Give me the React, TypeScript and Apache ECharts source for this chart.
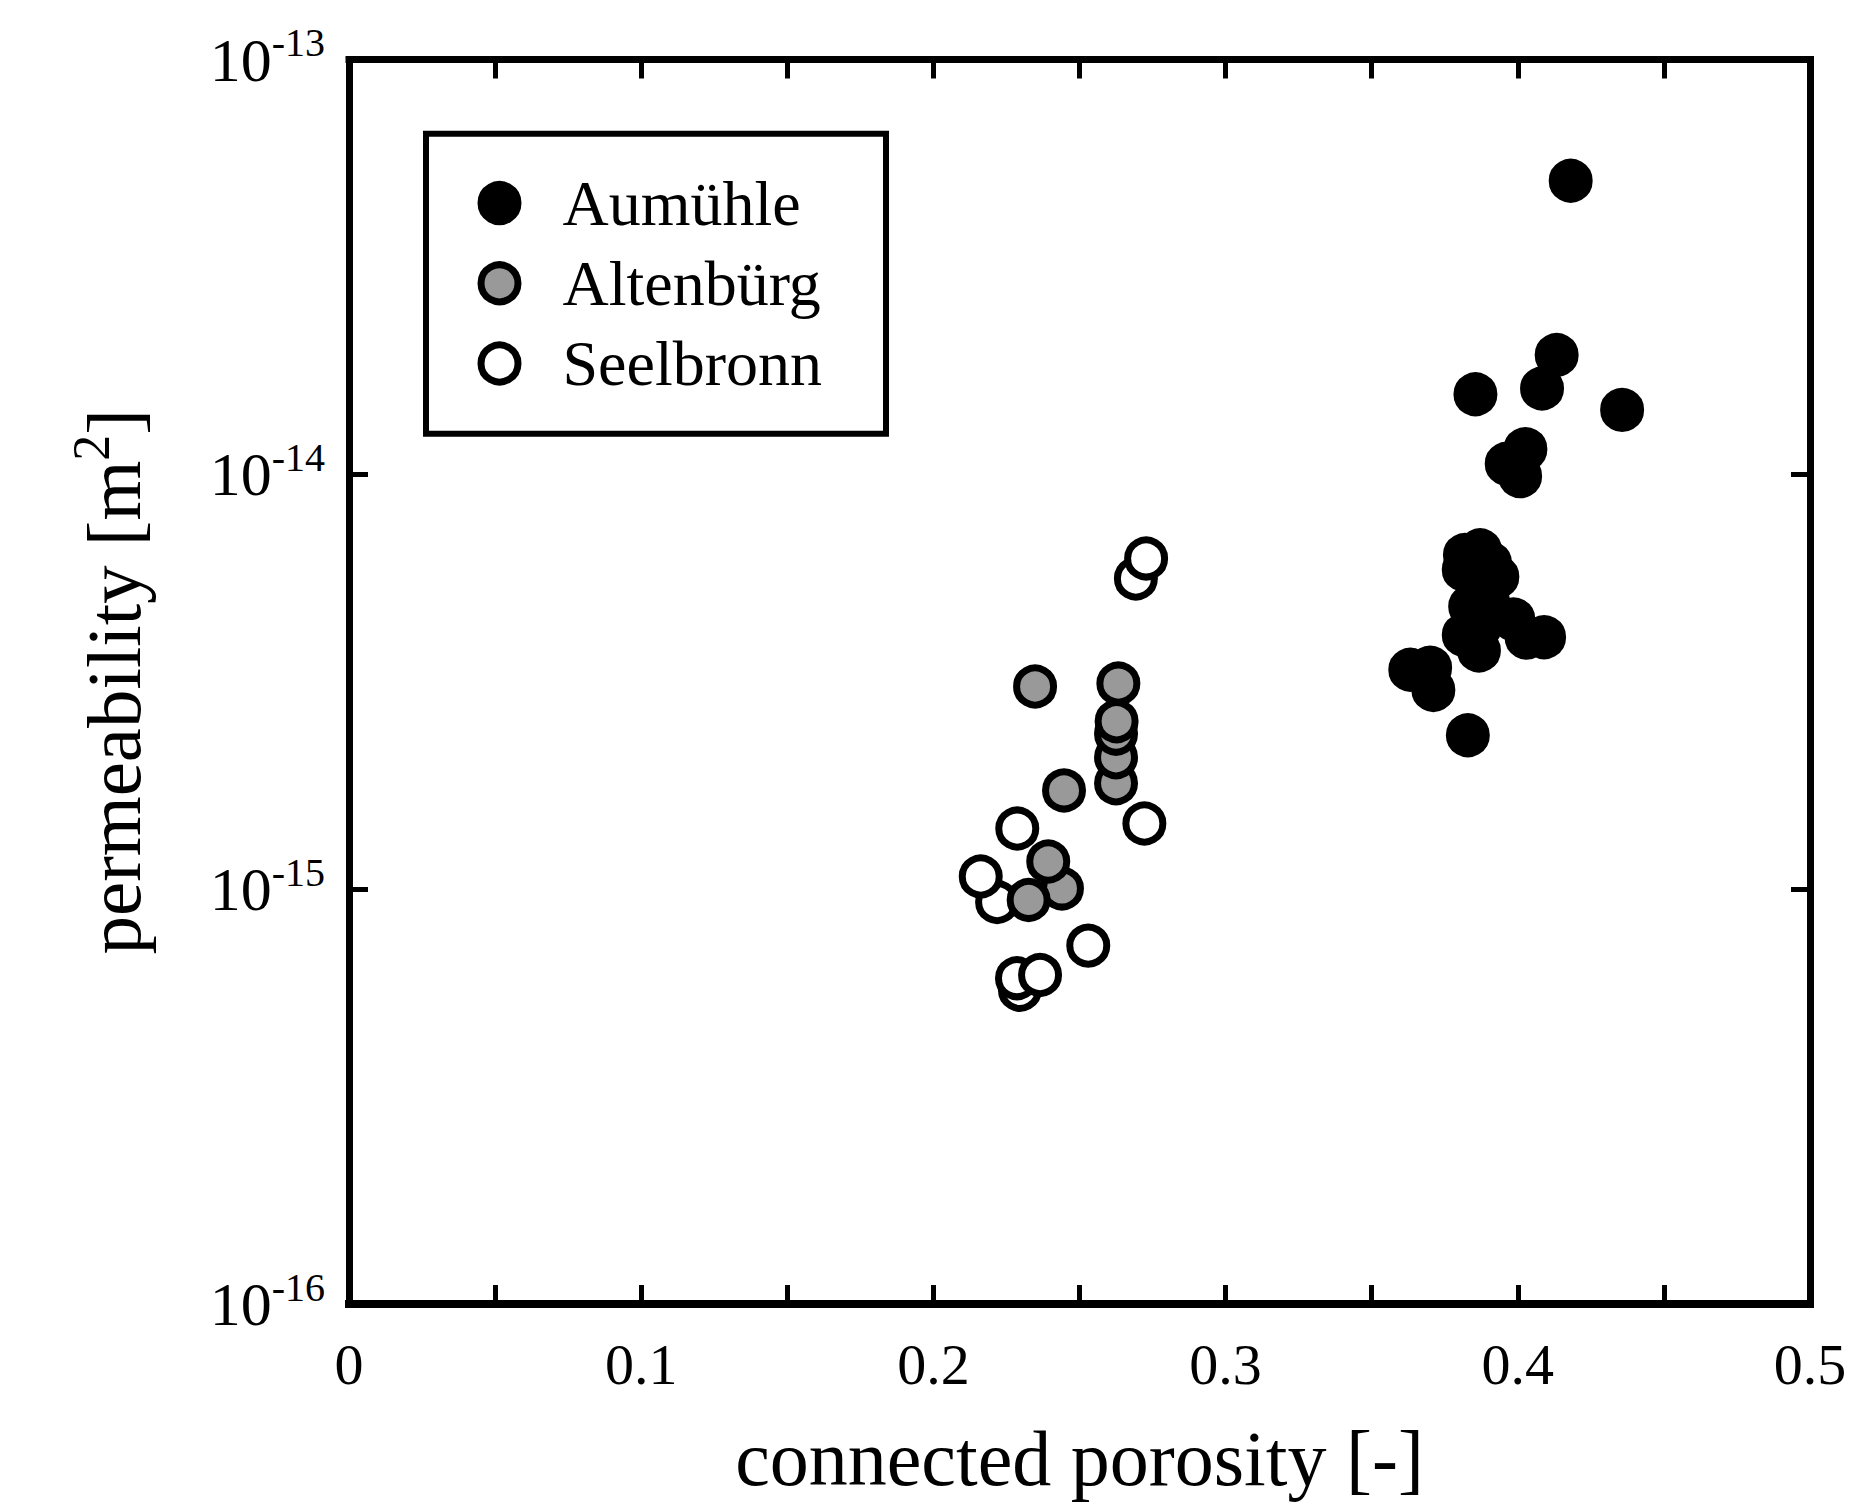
import React, { useEffect, useRef } from "react";
import * as echarts from "echarts";

const FONT = "'Liberation Serif', 'DejaVu Serif', serif";

const seriesNames = ["Aumühle", "Altenbürg", "Seelbronn"];
const xTitle = "connected porosity [-]";
const yTitleMain = "permeability [m";
const yTitleSup = "2";

// [connected porosity, permeability m^2]
const aumuehle: [number, number][] = [
  [0.4181, 5.1e-14],
  [0.4133, 1.94e-14],
  [0.4083, 1.61e-14],
  [0.3855, 1.56e-14],
  [0.4357, 1.43e-14],
  [0.4026, 1.15e-14],
  [0.3962, 1.06e-14],
  [0.4008, 9.9e-15],
  [0.3871, 6.56e-15],
  [0.3819, 6.39e-15],
  [0.3815, 5.89e-15],
  [0.393, 5.66e-15],
  [0.3905, 6.11e-15],
  [0.3867, 5.3e-15],
  [0.3837, 4.8e-15],
  [0.3898, 4.93e-15],
  [0.3871, 4.3e-15],
  [0.3815, 4.1e-15],
  [0.3867, 3.76e-15],
  [0.3985, 4.47e-15],
  [0.403, 4.04e-15],
  [0.409, 4.05e-15],
  [0.3632, 3.38e-15],
  [0.37, 3.42e-15],
  [0.3711, 3.02e-15],
  [0.3829, 2.35e-15],
];

const altenbuerg: [number, number][] = [
  [0.2348, 3.08e-15],
  [0.2625, 1.8e-15],
  [0.2625, 2.08e-15],
  [0.2625, 2.37e-15],
  [0.2633, 3.13e-15],
  [0.2627, 2.54e-15],
  [0.2447, 1.73e-15],
  [0.244, 1.004e-15],
  [0.2393, 1.166e-15],
  [0.2326, 9.42e-16],
];

const seelbronn: [number, number][] = [
  [0.2693, 5.61e-15],
  [0.2728, 6.27e-15],
  [0.2722, 1.44e-15],
  [0.2287, 1.4e-15],
  [0.2218, 9.31e-16],
  [0.2162, 1.073e-15],
  [0.253, 7.31e-16],
  [0.2296, 5.72e-16],
  [0.2286, 6.1e-16],
  [0.2365, 6.21e-16],
];

const xMin = 0;
const xMax = 0.5;
const xTickStep = 0.05;
const yMin = 1e-16;
const yMax = 1e-13;

const frame = "#000";
const gray = "#999999";

function buildOption() {
  const tick = { show: true, inside: true, length: 19, lineStyle: { color: frame, width: 5 } };
  const line = (w: number) => ({ show: true, onZero: false, lineStyle: { color: frame, width: w, cap: "square" } });
  const marker = { symbol: "circle", symbolSize: 37 };
  return {
    animation: false,
    backgroundColor: "#fff",
    grid: { left: 349, right: 45, top: 59.5, bottom: 190.5, containLabel: false },
    xAxis: [
      {
        type: "value",
        min: xMin,
        max: xMax,
        interval: xTickStep,
        position: "bottom",
        axisLine: line(8),
        axisTick: tick,
        splitLine: { show: false },
        axisLabel: {
          margin: 31,
          fontSize: 58,
          fontFamily: FONT,
          color: "#000",
          formatter: (v: number) => {
            const k = Math.round(v * 100);
            return k % 10 === 0 ? String(k / 100) : "";
          },
        },
        name: xTitle,
        nameLocation: "middle",
        nameGap: 115,
        nameTextStyle: { fontSize: 78, fontFamily: FONT, color: "#000" },
      },
      {
        type: "value",
        min: xMin,
        max: xMax,
        interval: xTickStep,
        position: "top",
        axisLine: line(7),
        axisTick: tick,
        splitLine: { show: false },
        axisLabel: { show: false },
      },
    ],
    yAxis: [
      {
        type: "log",
        logBase: 10,
        min: yMin,
        max: yMax,
        position: "left",
        axisLine: line(7),
        axisTick: tick,
        minorTick: { show: false },
        splitLine: { show: false },
        axisLabel: {
          margin: 24,
          color: "#000",
          formatter: (v: number) => `{b|10}{s|${Math.round(Math.log10(v))}}`,
          rich: {
            b: { fontSize: 62, fontFamily: FONT, color: "#000" },
            s: { fontSize: 40, fontFamily: FONT, color: "#000", padding: [0, 0, 34, 0] },
          },
        },
        name: `{a|${yTitleMain}}{s|${yTitleSup}}{a|]}`,
        nameLocation: "middle",
        nameGap: 186,
        nameTextStyle: {
          color: "#000",
          rich: {
            a: { fontSize: 77, fontFamily: FONT, color: "#000" },
            s: { fontSize: 52, fontFamily: FONT, color: "#000", padding: [0, 0, 46, 0] },
          },
        },
      },
      {
        type: "log",
        logBase: 10,
        min: yMin,
        max: yMax,
        position: "right",
        axisLine: line(7),
        axisTick: tick,
        splitLine: { show: false },
        axisLabel: { show: false },
      },
    ],
    legend: {
      orient: "vertical",
      left: 426,
      top: 133.7,
      data: seriesNames,
      icon: "circle",
      itemWidth: 37,
      itemHeight: 37,
      itemGap: 16.2,
      padding: [37.4, 64, 38.3, 51.5],
      borderColor: "#000",
      borderWidth: 6,
      backgroundColor: "#fff",
      selectedMode: false,
      itemStyle: { borderWidth: 7, borderColor: "#000" },
      textStyle: {
        fontSize: 64,
        fontFamily: FONT,
        color: "#000",
        lineHeight: 25,
        padding: [0, 0, 12, 39.5],
      },
    },
    series: [
      {
        type: "scatter",
        name: seriesNames[2],
        data: seelbronn,
        ...marker,
        itemStyle: { color: "#fff", borderColor: "#000", borderWidth: 7, opacity: 1 },
        emphasis: { disabled: true },
        z: 2,
      },
      {
        type: "scatter",
        name: seriesNames[1],
        data: altenbuerg,
        ...marker,
        itemStyle: { color: gray, borderColor: "#000", borderWidth: 7, opacity: 1 },
        emphasis: { disabled: true },
        z: 3,
      },
      {
        type: "scatter",
        name: seriesNames[0],
        data: aumuehle,
        ...marker,
        itemStyle: { color: "#000", borderColor: "#000", borderWidth: 7, opacity: 1 },
        emphasis: { disabled: true },
        z: 4,
      },
    ],
  };
}

export default function App() {
  const ref = useRef<HTMLDivElement>(null);
  useEffect(() => {
    document.body.style.margin = "0";
    const chart = echarts.init(ref.current as HTMLDivElement, null, { renderer: "svg" });
    chart.setOption(buildOption() as any);
    return () => chart.dispose();
  }, []);
  return (
    <div
      ref={ref}
      style={{ width: 1855, height: 1502, position: "absolute", left: 0, top: 0, background: "#fff" }}
    />
  );
}
